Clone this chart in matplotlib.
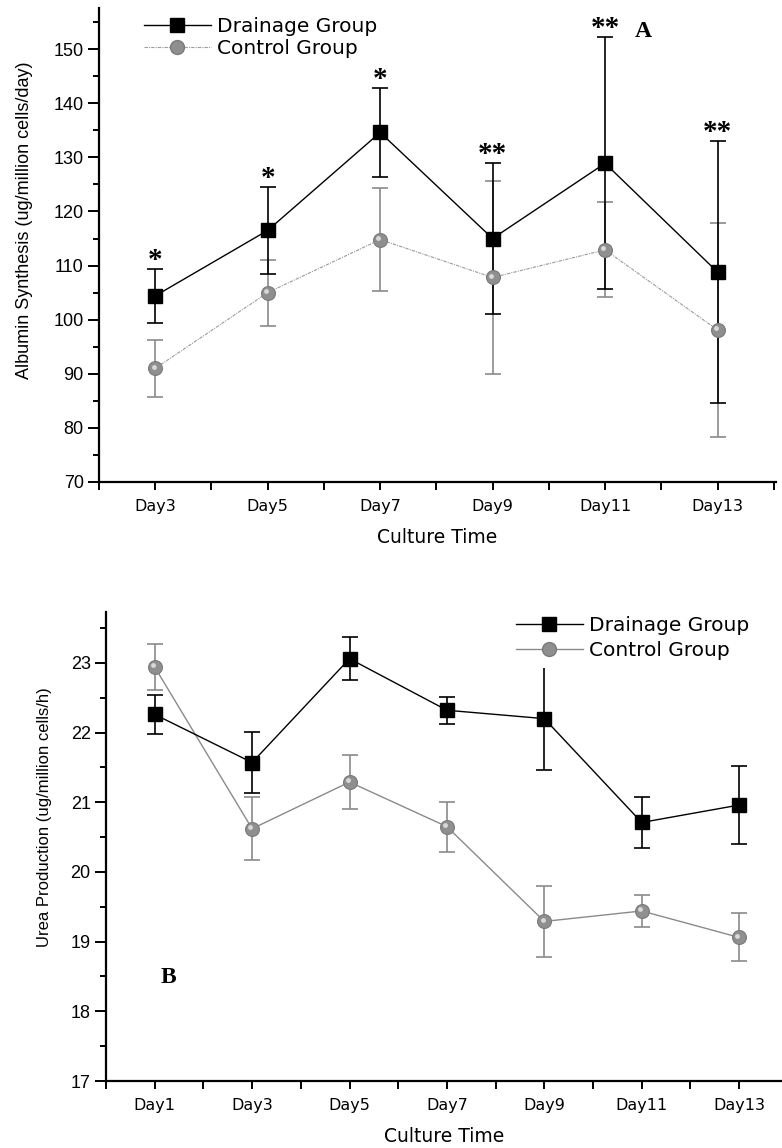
import numpy as np
import matplotlib.pyplot as plt
from matplotlib.ticker import MultipleLocator, FixedLocator
from matplotlib.transforms import offset_copy

# panel A: albumin synthesis
days_a = ['Day3', 'Day5', 'Day7', 'Day9', 'Day11', 'Day13']
drain_a = [104.4, 116.5, 134.6, 115.0, 128.9, 108.8]
drain_a_err = [5.0, 8.0, 8.3, 14.0, 23.3, 24.2]
ctrl_a = [91.0, 105.0, 114.8, 107.8, 112.9, 98.1]
ctrl_a_err = [5.3, 6.1, 9.5, 17.9, 8.8, 19.7]
stars_a = ['*', '*', '*', '**', '**', '**']

# panel B: urea production
days_b = ['Day1', 'Day3', 'Day5', 'Day7', 'Day9', 'Day11', 'Day13']
drain_b = [22.26, 21.57, 23.06, 22.32, 22.20, 20.71, 20.96]
drain_b_err = [0.28, 0.44, 0.31, 0.19, 0.74, 0.36, 0.56]
ctrl_b = [22.94, 20.62, 21.29, 20.65, 19.29, 19.44, 19.06]
ctrl_b_err = [0.33, 0.455, 0.39, 0.36, 0.51, 0.235, 0.345]

sans = ['Liberation Sans', 'DejaVu Sans']
wide = ['DejaVu Sans']
serif = ['Liberation Serif', 'DejaVu Serif']
plt.rcParams['font.family'] = sans

W, H = 782, 1148
fig = plt.figure(figsize=(W / 100, H / 100), dpi=100)


def frac(l, r, t, b):
    return [l / W, 1 - b / H, (r - l) / W, (b - t) / H]


def sphere(ax, x, y):
    ax.plot(x, y, 'o', ms=10, mfc='#8f8f8f', mec='#7a7a7a', mew=0.8, zorder=5)
    tr = offset_copy(ax.transData, fig=fig, x=-1.2, y=1.3, units='points')
    ax.plot(x, y, 'o', ms=3.5, mfc='#d8d8d8', mec='none', transform=tr, zorder=6)


def style(ax, labels, ylabel, ysize, major, minor, ypos, xpad):
    for s in ['top', 'right']:
        ax.spines[s].set_visible(False)
    for s in ['left', 'bottom']:
        ax.spines[s].set_linewidth(1.6)
    ax.set_xticks(range(len(labels)))
    ax.set_xticklabels(labels, family=wide, fontsize=11.5)
    ax.xaxis.set_minor_locator(FixedLocator(np.arange(-0.5, len(labels), 1)))
    ax.yaxis.set_major_locator(MultipleLocator(major))
    ax.yaxis.set_minor_locator(MultipleLocator(minor))
    ax.tick_params(axis='both', which='major', direction='out', width=1.4)
    ax.tick_params(axis='x', which='both', length=6, width=1.4, pad=6)
    ax.tick_params(axis='y', which='major', length=8, labelsize=13, pad=3)
    ax.tick_params(axis='y', which='minor', length=4, width=1.4)
    ax.set_ylabel(ylabel, fontsize=ysize)
    ax.yaxis.set_label_coords(ypos[0], ypos[1])
    ax.set_xlabel('Culture Time', fontsize=13.5, family=wide, labelpad=xpad)


# ---- panel A
ax1 = fig.add_axes(frac(99, 776, 8, 482))
xa = np.arange(len(days_a))
ax1.errorbar(xa, ctrl_a, yerr=ctrl_a_err, fmt='none', ecolor='#8a8a8a',
             elinewidth=1.2, capsize=6, capthick=1.2, zorder=3)
ax1.errorbar(xa, drain_a, yerr=drain_a_err, fmt='none', ecolor='black',
             elinewidth=1.2, capsize=6, capthick=1.2, zorder=3)
ax1.plot(xa, ctrl_a, color='#9a9a9a', lw=0.8, ls=(0, (3, 1, 1, 1)), zorder=2)
ax1.plot(xa, drain_a, color='black', lw=1, marker='s', ms=10, zorder=4,
         label='Drainage Group')
sphere(ax1, xa, ctrl_a)
ax1.plot([], [], color='#9a9a9a', lw=0.8, ls=(0, (3, 1, 1, 1)), marker='o',
         ms=10, mfc='#8f8f8f', mec='#7a7a7a', label='Control Group')
for i in range(len(days_a)):
    ax1.annotate(stars_a[i], (xa[i], drain_a[i] + drain_a_err[i]),
                 xytext=(0, 6), textcoords='offset points', ha='center',
                 va='center', fontsize=21, family=serif, fontweight='bold')
ax1.text(4.34, 153.2, 'A', family=serif, fontweight='bold', fontsize=17,
         ha='center', va='center')
ax1.set_xlim(-0.5, 5.52)
ax1.set_ylim(70, 157.6)
style(ax1, days_a, 'Albumin Synthesis (ug/million cells/day)', 13, 10, 5,
      (-0.097, 0.553), 10)
ax1.legend(loc='upper left', bbox_to_anchor=(0.04, 1.02), frameon=False,
           handlelength=3.3, labelspacing=0.15, handletextpad=0.3,
           prop={'family': 'DejaVu Sans', 'size': 14.5})

# ---- panel B
ax2 = fig.add_axes(frac(106, 782, 612, 1081))
xb = np.arange(len(days_b))
ax2.errorbar(xb, ctrl_b, yerr=ctrl_b_err, fmt='none', ecolor='#8a8a8a',
             elinewidth=1.2, capsize=6, capthick=1.2, zorder=3)
ax2.errorbar(xb, drain_b, yerr=drain_b_err, fmt='none', ecolor='black',
             elinewidth=1.2, capsize=6, capthick=1.2, zorder=3)
ax2.plot(xb, ctrl_b, color='#8a8a8a', lw=1, zorder=2)
ax2.plot(xb, drain_b, color='black', lw=1, marker='s', ms=10, zorder=4,
         label='Drainage Group')
sphere(ax2, xb, ctrl_b)
ax2.plot([], [], color='#8a8a8a', lw=1, marker='o', ms=10, mfc='#8f8f8f',
         mec='#7a7a7a', label='Control Group')
ax2.text(0.14, 18.48, 'B', family=serif, fontweight='bold', fontsize=17,
         ha='center', va='center')
ax2.set_xlim(-0.5, 6.44)
ax2.set_ylim(17, 23.73)
style(ax2, days_b, 'Urea Production (ug/million cells/h)', 12, 1, 0.5,
      (-0.08, 0.563), 10)
leg = ax2.legend(loc='upper left', bbox_to_anchor=(0.58, 1.03), frameon=True,
                 handlelength=3.3, labelspacing=0.3, handletextpad=0.3,
                 prop={'family': 'DejaVu Sans', 'size': 14.5})
leg.get_frame().set_edgecolor('none')
leg.get_frame().set_facecolor('white')
leg.get_frame().set_alpha(1)

fig.savefig('out.png', dpi=100)
